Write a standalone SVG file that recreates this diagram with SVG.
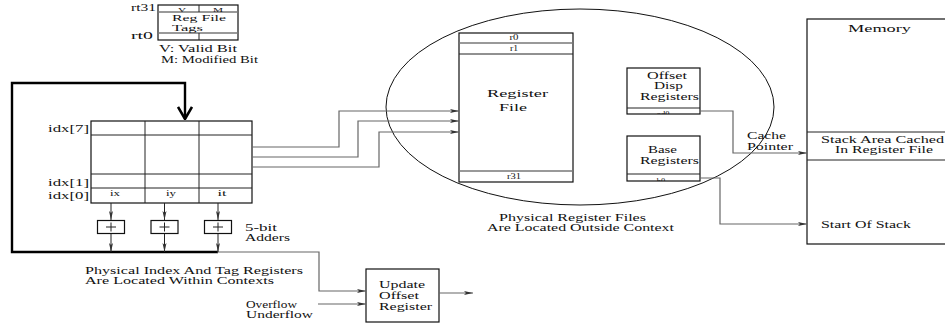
<svg xmlns="http://www.w3.org/2000/svg" width="945" height="326" viewBox="0 0 945 326" font-family="'Liberation Serif','DejaVu Serif',serif">
<style>
text{font-family:"Liberation Serif","DejaVu Serif",serif;font-size:10px;fill:#111}
.s{font-size:8.5px}
.t{font-size:6.5px}
.m{font-size:9px}
.box{fill:none;stroke:#111;stroke-width:1.2}
.ln{fill:none;stroke:#222;stroke-width:1}
.gl{fill:none;stroke:#777;stroke-width:1.3}
.cn{fill:none;stroke:#666;stroke-width:1.2}
.thick{fill:none;stroke:#000;stroke-width:2.4}
</style>
<defs>
<marker id="ah" markerWidth="10" markerHeight="6" refX="9" refY="3" orient="auto" markerUnits="userSpaceOnUse">
<path d="M0,1 L9,3 L0,5 L2,3 z" fill="#333"/>
</marker>
<marker id="big" markerWidth="16" markerHeight="14" refX="8" refY="13" orient="0" markerUnits="userSpaceOnUse">
<path d="M1,1 L8,13 L15,1" fill="none" stroke="#000" stroke-width="2.6"/>
</marker>
<clipPath id="cOd"><rect x="627" y="108" width="73" height="6"/></clipPath>
<clipPath id="cB"><rect x="627" y="174" width="73" height="7"/></clipPath>
<clipPath id="cTop"><rect x="158" y="5" width="80" height="7"/></clipPath>
</defs>

<g id="regFileTags">
<rect class="box" x="158" y="5" width="80" height="35"/>
<line class="gl" x1="158" y1="12" x2="238" y2="12"/>
<line class="gl" x1="158" y1="33" x2="238" y2="33"/>
<line class="ln" x1="199" y1="5" x2="199" y2="12"/>
<line class="ln" x1="199" y1="33" x2="199" y2="40"/>
<text class="t" x="182" y="11.5" text-anchor="middle" textLength="8" lengthAdjust="spacingAndGlyphs" clip-path="url(#cTop)">V</text>
<text class="t" x="218" y="11.5" text-anchor="middle" textLength="10" lengthAdjust="spacingAndGlyphs" clip-path="url(#cTop)">M</text>
<text class="m" x="172" y="21" textLength="54" lengthAdjust="spacingAndGlyphs">Reg File</text>
<text class="m" x="172" y="31" textLength="31" lengthAdjust="spacingAndGlyphs">Tags</text>
<text x="131" y="11" textLength="25" lengthAdjust="spacingAndGlyphs">rt31</text>
<text x="131" y="39" textLength="22" lengthAdjust="spacingAndGlyphs">rt0</text>
<text x="159" y="52" textLength="78" lengthAdjust="spacingAndGlyphs">V: Valid Bit</text>
<text x="161" y="63" textLength="97" lengthAdjust="spacingAndGlyphs">M: Modified Bit</text>
</g>

<g id="idxTable">
<rect class="box" x="91" y="121" width="161" height="82"/>
<line class="ln" x1="91" y1="135" x2="252" y2="135"/>
<line class="ln" x1="91" y1="174" x2="252" y2="174"/>
<line class="ln" x1="91" y1="188" x2="252" y2="188"/>
<line class="ln" x1="145" y1="121" x2="145" y2="203"/>
<line class="ln" x1="199" y1="121" x2="199" y2="203"/>
<text x="89" y="132" text-anchor="end" textLength="41" lengthAdjust="spacingAndGlyphs">idx[7]</text>
<text x="89" y="186" text-anchor="end" textLength="41" lengthAdjust="spacingAndGlyphs">idx[1]</text>
<text x="89" y="199" text-anchor="end" textLength="41" lengthAdjust="spacingAndGlyphs">idx[0]</text>
<text class="s" x="115" y="196" text-anchor="middle" textLength="10" lengthAdjust="spacingAndGlyphs">ix</text>
<text class="s" x="171" y="196" text-anchor="middle" textLength="10" lengthAdjust="spacingAndGlyphs">iy</text>
<text class="s" x="222" y="196" text-anchor="middle" textLength="9" lengthAdjust="spacingAndGlyphs">it</text>
</g>

<g id="adder1"><rect class="box" x="97.5" y="220.5" width="27" height="13"/><path class="ln" d="M106,227 H116 M111,222.5 V231.5"/></g>
<g id="adder2"><rect class="box" x="151" y="220.5" width="27" height="13"/><path class="ln" d="M159.5,227 H169.5 M164.5,222.5 V231.5"/></g>
<g id="adder3"><rect class="box" x="204.5" y="220.5" width="27" height="13"/><path class="ln" d="M213,227 H223 M218,222.5 V231.5"/></g>
<g id="adderLabel">
<text x="245" y="231" textLength="32" lengthAdjust="spacingAndGlyphs">5-bit</text>
<text x="245" y="241" textLength="45" lengthAdjust="spacingAndGlyphs">Adders</text>
</g>
<g id="contextLabel">
<text x="85" y="274" textLength="218" lengthAdjust="spacingAndGlyphs">Physical Index And Tag Registers</text>
<text x="85" y="284" textLength="189" lengthAdjust="spacingAndGlyphs">Are Located Within Contexts</text>
</g>
<g id="flowLabel">
<text x="246" y="308" textLength="51" lengthAdjust="spacingAndGlyphs">Overflow</text>
<text x="246" y="318" textLength="67" lengthAdjust="spacingAndGlyphs">Underflow</text>
</g>

<g id="updateOffset">
<rect class="box" x="366" y="269" width="73" height="53"/>
<text x="379" y="288" textLength="46" lengthAdjust="spacingAndGlyphs">Update</text>
<text x="379" y="299" textLength="40" lengthAdjust="spacingAndGlyphs">Offset</text>
<text x="379" y="310" textLength="53" lengthAdjust="spacingAndGlyphs">Register</text>
</g>

<g id="outsideContext">
<ellipse cx="580" cy="107" rx="194" ry="98" fill="none" stroke="#111" stroke-width="1"/>
<text x="499" y="221" textLength="147" lengthAdjust="spacingAndGlyphs">Physical Register Files</text>
<text x="487" y="231" textLength="187" lengthAdjust="spacingAndGlyphs">Are Located Outside Context</text>
</g>

<g id="registerFile">
<rect class="box" x="459" y="33" width="114" height="149"/>
<line class="gl" x1="459" y1="43" x2="573" y2="43"/>
<line class="ln" x1="459" y1="54" x2="573" y2="54"/>
<line class="gl" x1="459" y1="171" x2="573" y2="171"/>
<text class="s" x="514" y="40" text-anchor="middle" textLength="9" lengthAdjust="spacingAndGlyphs">r0</text>
<text class="s" x="514" y="51" text-anchor="middle" textLength="8" lengthAdjust="spacingAndGlyphs">r1</text>
<text class="s" x="514" y="179" text-anchor="middle" textLength="14" lengthAdjust="spacingAndGlyphs">r31</text>
<text x="487" y="97" textLength="61" lengthAdjust="spacingAndGlyphs">Register</text>
<text x="499" y="111" textLength="28" lengthAdjust="spacingAndGlyphs">File</text>
</g>

<g id="offsetDisp">
<rect class="box" x="627" y="68" width="73" height="46"/>
<line class="ln" x1="627" y1="108" x2="700" y2="108"/>
<text x="647" y="79" textLength="40" lengthAdjust="spacingAndGlyphs">Offset</text>
<text x="654" y="89" textLength="29" lengthAdjust="spacingAndGlyphs">Disp</text>
<text x="640" y="100" textLength="59" lengthAdjust="spacingAndGlyphs">Registers</text>
<text class="s" x="663" y="117" text-anchor="middle" clip-path="url(#cOd)">od0</text>
</g>

<g id="baseRegs">
<rect class="box" x="627" y="136" width="73" height="45"/>
<line class="ln" x1="627" y1="174" x2="700" y2="174"/>
<text x="648" y="153" textLength="29" lengthAdjust="spacingAndGlyphs">Base</text>
<text x="640" y="164" textLength="59" lengthAdjust="spacingAndGlyphs">Registers</text>
<text class="s" x="661" y="184" text-anchor="middle" clip-path="url(#cB)">b0</text>
</g>

<g id="memory">
<rect class="box" x="807" y="19" width="150" height="225"/>
<line class="ln" x1="807" y1="132" x2="945" y2="132"/>
<line class="ln" x1="807" y1="160" x2="945" y2="160"/>
<text x="848" y="32" textLength="63" lengthAdjust="spacingAndGlyphs">Memory</text>
<text x="821" y="143" textLength="123" lengthAdjust="spacingAndGlyphs">Stack Area Cached</text>
<text x="835" y="153" textLength="98" lengthAdjust="spacingAndGlyphs">In Register File</text>
<text x="821" y="228" textLength="90" lengthAdjust="spacingAndGlyphs">Start Of Stack</text>
</g>

<g id="cacheLabel">
<text x="747" y="139" textLength="39" lengthAdjust="spacingAndGlyphs">Cache</text>
<text x="747" y="150" textLength="46" lengthAdjust="spacingAndGlyphs">Pointer</text>
</g>

<g id="connectors">
<path class="thick" d="M218,252 H12 V83 H185 V119" marker-end="url(#big)"/>
<path class="cn" d="M217,252 H319 V291 H366" marker-end="url(#ah)"/>
<path class="cn" d="M318,304 H366" marker-end="url(#ah)"/>
<path class="cn" d="M439,293 H473" marker-end="url(#ah)"/>
<path class="ln" d="M111,203 V220" marker-end="url(#ah)"/>
<path class="ln" d="M164.5,203 V220" marker-end="url(#ah)"/>
<path class="ln" d="M218,203 V220" marker-end="url(#ah)"/>
<path class="ln" d="M111,234 V252" marker-end="url(#ah)"/>
<path class="ln" d="M164.5,234 V252" marker-end="url(#ah)"/>
<path class="ln" d="M218,234 V252" marker-end="url(#ah)"/>
<path class="cn" d="M252,147 H339 V111 H459" marker-end="url(#ah)"/>
<path class="cn" d="M252,157 H358 V121 H459" marker-end="url(#ah)"/>
<path class="cn" d="M252,167 H379 V132 H459" marker-end="url(#ah)"/>
<path class="cn" d="M700,111 H733 V153 H807" marker-end="url(#ah)"/>
<path class="cn" d="M700,178 H720 V224 H807" marker-end="url(#ah)"/>
</g>
</svg>
